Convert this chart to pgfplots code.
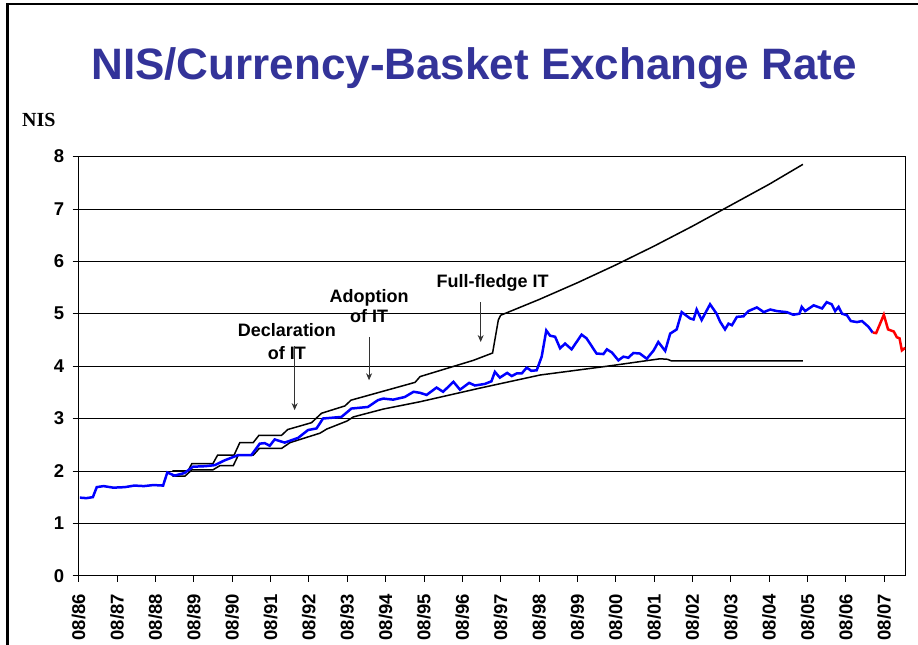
\documentclass[border=0pt]{standalone}
\usepackage{fontspec}
\setmainfont{Liberation Sans}
\newfontfamily\serifb{Liberation Serif}
\usepackage{pgfplots}
\pgfplotsset{compat=1.18}
\usetikzlibrary{arrows.meta}
\definecolor{titleblue}{RGB}{51,51,153}
\begin{document}
\begin{tikzpicture}
\useasboundingbox (0pt,0pt) rectangle (918pt,645pt);
\draw[line width=2.5pt,black] (7.5pt,0pt) -- (7.5pt,641pt) -- (918pt,641pt);
\node[anchor=base,text=titleblue,font=\fontsize{44}{48}\selectfont\bfseries,inner sep=0pt] at (474pt,565pt) {NIS/Currency-Basket Exchange Rate};
\node[anchor=base west,font=\fontsize{20}{22}\selectfont\serifb\bfseries,inner sep=0pt] at (22pt,518pt) {NIS};
\begin{axis}[
  scale only axis, width=826.6pt, height=419.2pt,
  at={(78.7pt,69.3pt)}, anchor=south west,
  xmin=0, xmax=21.55, ymin=0, ymax=8,
  xtick={0,1,2,3,4,5,6,7,8,9,10,11,12,13,14,15,16,17,18,19,20,21},
  xticklabels={08/86,08/87,08/88,08/89,08/90,08/91,08/92,08/93,08/94,08/95,08/96,08/97,08/98,08/99,08/00,08/01,08/02,08/03,08/04,08/05,08/06,08/07},
  ytick={0,1,2,3,4,5,6,7,8},
  ymajorgrids, major grid style={black, line width=0.8pt},
  tick align=outside, major tick length=6pt, tick style={black, line width=0.8pt},
  xtick pos=bottom, ytick pos=left,
  axis line style={black, line width=0.8pt},
  ticklabel style={font=\fontsize{18.5}{18.5}\selectfont\bfseries},
  /pgf/number format/assume math mode=true,
  xticklabel style={rotate=90, anchor=east},
  xticklabel shift=9pt, yticklabel shift=5pt,
]
% upper band
\addplot[black, line width=1.5pt] coordinates {
(2.44,2.0)(2.85,2.0)(2.95,2.14)(3.5,2.14)(3.62,2.3)(4.05,2.3)(4.2,2.54)(4.55,2.54)(4.7,2.68)(5.29,2.68)(5.45,2.79)(6.07,2.92)(6.33,3.1)(6.94,3.24)(7.1,3.35)(8.77,3.69)(8.9,3.8)(10.29,4.11)(10.79,4.25)(10.94,4.88)(11.0,4.97)(12,5.27)(13,5.59)(14,5.93)(15,6.29)(16,6.67)(17,7.07)(18,7.47)(18.88,7.85)
};
% lower band
\addplot[black, line width=1.5pt] coordinates {
(2.44,1.9)(2.77,1.9)(2.95,2.02)(3.5,2.02)(3.68,2.1)(4.03,2.1)(4.16,2.3)(4.55,2.3)(4.71,2.43)(5.29,2.43)(5.51,2.54)(6.29,2.72)(6.47,2.8)(6.99,2.95)(7.16,3.03)(7.94,3.18)(8.9,3.32)(10.46,3.58)(12.03,3.83)(13.8,4.0)(15.16,4.14)(15.35,4.13)(15.45,4.1)(18.88,4.1)
};
% exchange rate
\addplot[blue, line width=2.5pt] coordinates {
(0.03,1.49)(0.2,1.48)(0.37,1.5)(0.47,1.69)(0.65,1.71)(0.9,1.68)(1.2,1.69)(1.45,1.72)(1.7,1.71)(1.95,1.73)(2.2,1.72)(2.31,1.97)(2.5,1.91)(2.76,1.96)(2.98,2.08)(3.3,2.09)(3.55,2.11)(3.8,2.2)(4.15,2.3)(4.5,2.3)(4.72,2.52)(4.85,2.53)(4.98,2.48)(5.11,2.6)(5.37,2.54)(5.72,2.63)(5.98,2.78)(6.2,2.81)(6.37,3.0)(6.85,3.03)(7.11,3.19)(7.54,3.22)(7.8,3.35)(7.94,3.38)(8.2,3.36)(8.5,3.41)(8.73,3.51)(8.9,3.49)(9.07,3.45)(9.33,3.59)(9.5,3.51)(9.77,3.70)(9.94,3.55)(10.18,3.68)(10.33,3.63)(10.59,3.66)(10.76,3.71)(10.85,3.89)(10.98,3.78)(11.17,3.87)(11.29,3.81)(11.42,3.86)(11.55,3.86)(11.68,3.97)(11.8,3.91)(11.94,3.92)(12.07,4.18)(12.19,4.68)(12.29,4.58)(12.42,4.56)(12.55,4.34)(12.68,4.43)(12.85,4.32)(13.11,4.60)(13.24,4.53)(13.5,4.24)(13.68,4.23)(13.77,4.32)(13.9,4.26)(14.07,4.11)(14.2,4.18)(14.33,4.16)(14.46,4.25)(14.63,4.24)(14.81,4.14)(14.99,4.30)(15.11,4.46)(15.29,4.29)(15.42,4.62)(15.59,4.70)(15.72,5.03)(15.94,4.91)(16.03,4.89)(16.11,5.08)(16.24,4.88)(16.46,5.18)(16.63,5.0)(16.72,4.85)(16.85,4.70)(16.94,4.81)(17.03,4.78)(17.16,4.94)(17.33,4.95)(17.46,5.05)(17.68,5.12)(17.86,5.03)(18.03,5.08)(18.2,5.05)(18.46,5.03)(18.63,4.98)(18.79,5.0)(18.85,5.13)(18.94,5.05)(19.16,5.16)(19.38,5.10)(19.5,5.22)(19.63,5.18)(19.72,5.05)(19.81,5.13)(19.9,5.0)(20.03,4.97)(20.13,4.86)(20.29,4.84)(20.42,4.86)(20.59,4.75)(20.7,4.64)
};
\addplot[red, line width=2.5pt] coordinates {
(20.7,4.64)(20.79,4.63)(20.99,4.98)(21.1,4.70)(21.25,4.66)(21.33,4.55)(21.4,4.53)(21.46,4.30)(21.55,4.35)
};
% annotations
\node[anchor=base,font=\fontsize{18}{20}\selectfont\bfseries,inner sep=0pt] at (axis cs:5.43,4.56) {Declaration};
\node[anchor=base,font=\fontsize{18}{20}\selectfont\bfseries,inner sep=0pt] at (axis cs:5.43,4.13) {of IT};
\draw[-{Stealth[length=7pt,width=6pt]},line width=0.8pt,black!80] (axis cs:5.63,4.38) -- (axis cs:5.63,3.16);
\node[anchor=base,font=\fontsize{18}{20}\selectfont\bfseries,inner sep=0pt] at (axis cs:7.57,5.22) {Adoption};
\node[anchor=base,font=\fontsize{18}{20}\selectfont\bfseries,inner sep=0pt] at (axis cs:7.57,4.84) {of IT};
\draw[-{Stealth[length=7pt,width=6pt]},line width=0.8pt,black!80] (axis cs:7.57,4.56) -- (axis cs:7.57,3.73);
\node[anchor=base,font=\fontsize{18}{20}\selectfont\bfseries,inner sep=0pt] at (axis cs:10.79,5.50) {Full-fledge IT};
\draw[-{Stealth[length=7pt,width=6pt]},line width=0.8pt,black!80] (axis cs:10.48,5.22) -- (axis cs:10.48,4.46);
\end{axis}
\end{tikzpicture}
\end{document}
